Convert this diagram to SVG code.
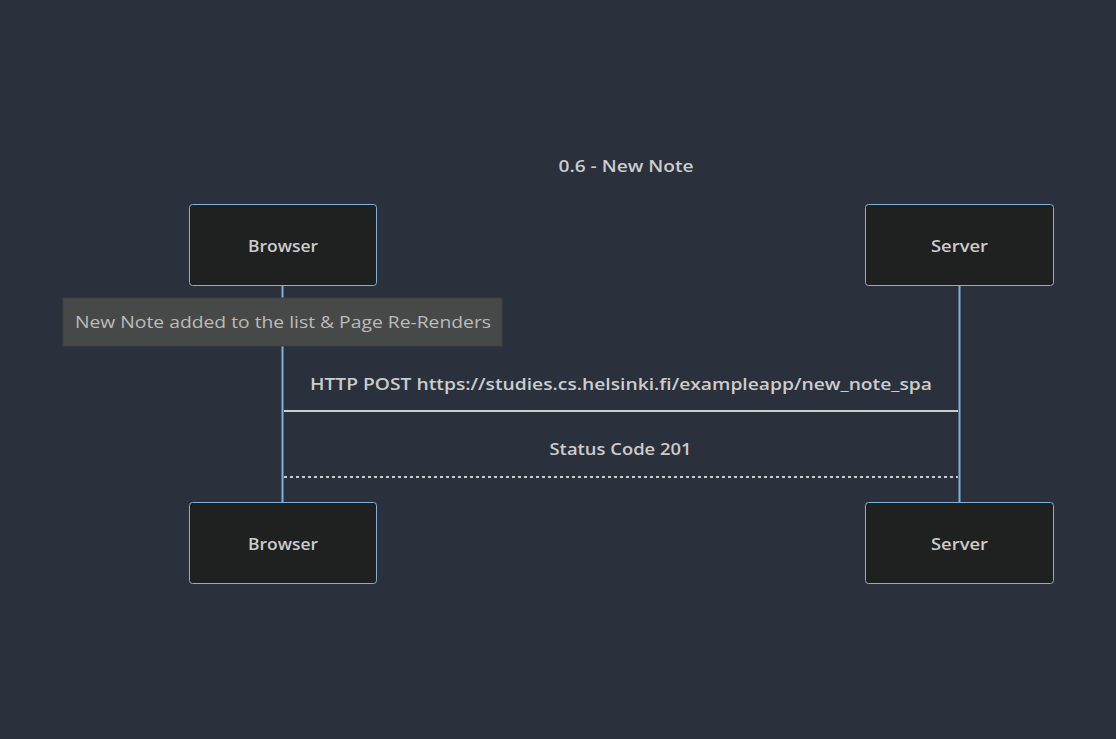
<svg xmlns="http://www.w3.org/2000/svg" width="1116" height="739" viewBox="0 0 1116 739">
<style>
text{font-family:"Open Sans","DejaVu Sans",sans-serif;font-size:16px;font-weight:600;}
.actor rect{fill:#1f2020;stroke:#81b1db;stroke-width:1;}
.actor text{fill:#cccccc;text-anchor:middle;dominant-baseline:central;}
.lifeline{stroke:#81b1db;stroke-width:2;}
.msg{stroke:#cccccc;stroke-width:2;fill:none;}
.dash{stroke-dasharray:3,3;}
.lbl{fill:#cccccc;text-anchor:middle;}
text.notetext{fill:#bbbbbb;text-anchor:middle;font-weight:400;}
</style>
<rect width="1116" height="739" fill="#2a303c"/>
<text x="626" y="172" class="lbl" textLength="135" lengthAdjust="spacingAndGlyphs">0.6 - New Note</text>
<g id="lifelines">
<line class="lifeline" x1="282.5" y1="285" x2="282.5" y2="502"/>
<line class="lifeline" x1="959.5" y1="285" x2="959.5" y2="502"/>
</g>
<g id="browser-top" class="actor"><rect x="189.5" y="204.5" width="187" height="81" rx="3"/><text x="283" y="246" textLength="70" lengthAdjust="spacingAndGlyphs">Browser</text></g>
<g id="server-top" class="actor"><rect x="865.5" y="204.5" width="188" height="81" rx="3"/><text x="959.5" y="246" textLength="57" lengthAdjust="spacingAndGlyphs">Server</text></g>
<g id="browser-bottom" class="actor"><rect x="189.5" y="502.5" width="187" height="81" rx="3"/><text x="283" y="544" textLength="70" lengthAdjust="spacingAndGlyphs">Browser</text></g>
<g id="server-bottom" class="actor"><rect x="865.5" y="502.5" width="188" height="81" rx="3"/><text x="959.5" y="544" textLength="57" lengthAdjust="spacingAndGlyphs">Server</text></g>
<g id="note">
<rect x="63" y="298" width="439" height="48" fill="#474949" stroke="#3f4141" stroke-width="1"/>
<text class="notetext" x="283" y="328" textLength="416" lengthAdjust="spacingAndGlyphs">New Note added to the list &amp; Page Re-Renders</text>
</g>
<g id="connectors">
<line class="msg" x1="284" y1="411" x2="958" y2="411"/>
<line class="msg dash" x1="284" y1="477" x2="958" y2="477"/>
</g>
<text x="621" y="390" class="lbl" textLength="622" lengthAdjust="spacingAndGlyphs">HTTP POST https://studies.cs.helsinki.fi/exampleapp/new_note_spa</text>
<text x="620.5" y="455" class="lbl" textLength="142" lengthAdjust="spacingAndGlyphs">Status Code 201</text>
</svg>
